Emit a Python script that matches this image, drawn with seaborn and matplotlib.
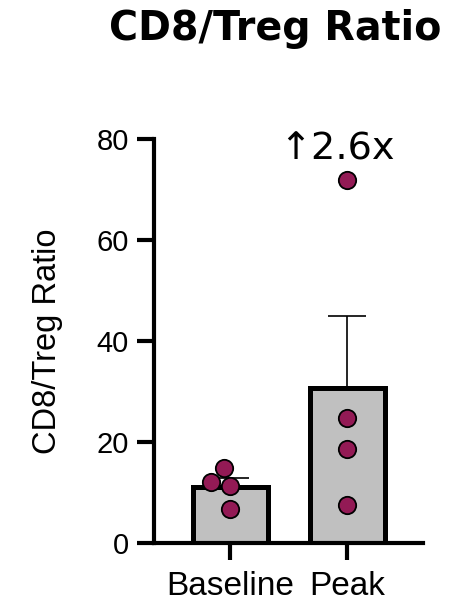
import numpy as np
import pandas as pd
import seaborn as sns
import matplotlib.pyplot as plt

sns.set_style('white')
plt.rcParams['font.family'] = ['Liberation Sans', 'DejaVu Sans']
plt.rcParams['text.color'] = 'black'
plt.rcParams['xtick.color'] = 'black'
plt.rcParams['ytick.color'] = 'black'
plt.rcParams['axes.labelcolor'] = 'black'
plt.rcParams['axes.edgecolor'] = 'black'

# values
groups = ['Baseline', 'Peak']
baseline_vals = [12.0, 14.8, 11.2, 6.7]
peak_vals = [72.0, 24.8, 18.6, 7.6]
yticks = [0, 20, 40, 60, 80]
fold_label = '\u21912.6x'

df = pd.DataFrame({
    'group': ['Baseline'] * len(baseline_vals) + ['Peak'] * len(peak_vals),
    'value': baseline_vals + peak_vals,
})
stats = df.groupby('group', sort=False)['value'].agg(['mean', 'sem'])

fig = plt.figure(figsize=(4.72, 6.05), dpi=100)
ax = fig.add_axes([0.326, 0.1025, 0.57, 0.6675])

sns.barplot(data=df, x='group', y='value', order=groups, errorbar=None,
            color='#C0C0C0', edgecolor='black', linewidth=3.6, width=0.64,
            ax=ax, zorder=1)

# upper-only SEM bars
ax.errorbar(np.arange(len(groups)), stats['mean'].values,
            yerr=[np.zeros(len(groups)), stats['sem'].values],
            fmt='none', ecolor='black', elinewidth=1.2, capsize=14,
            capthick=1.2, zorder=2)

sns.swarmplot(data=df, x='group', y='value', order=groups, color='#931A55',
              size=12.5, edgecolor='black', linewidth=1.3, ax=ax, zorder=3)

ax.set_xlim(-0.654, 1.645)
ax.set_ylim(0, 80)
ax.set_yticks(yticks)
ax.set_xlabel('')
ax.set_ylabel('CD8/Treg Ratio', fontsize=23.5, labelpad=24)
sns.despine(ax=ax)
for s in ['left', 'bottom']:
    ax.spines[s].set_linewidth(3)
    ax.spines[s].set_color('black')
ax.tick_params(axis='both', length=12, width=3, color='black',
               bottom=True, left=True)
ax.tick_params(axis='y', labelsize=21, pad=6)
ax.tick_params(axis='x', labelsize=24, pad=8)

ax.text(0.42, 75.9, fold_label, ha='left', va='baseline', fontsize=27.5,
        family=['DejaVu Sans'], color='black')

fig.text(0.583, 0.985, 'CD8/Treg Ratio', ha='center', va='top',
         fontsize=28.5, fontweight='bold', family=['DejaVu Sans'])

fig.savefig('out.png', dpi=100)
